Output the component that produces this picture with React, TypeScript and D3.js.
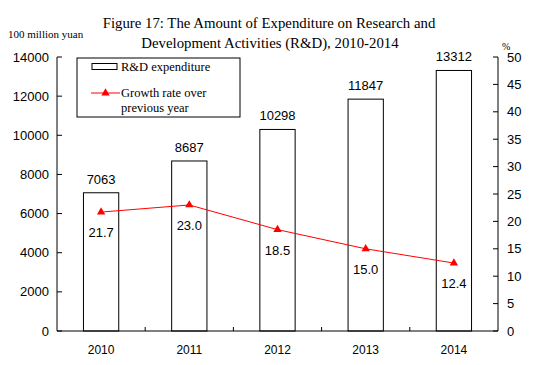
import * as d3 from 'd3';

const years = ['2010', '2011', '2012', '2013', '2014'];
const expenditure = [7063, 8687, 10298, 11847, 13312];
const growth = [21.7, 23.0, 18.5, 15.0, 12.4];
const leftTicks = [0, 2000, 4000, 6000, 8000, 10000, 12000, 14000];
const rightTicks = [0, 5, 10, 15, 20, 25, 30, 35, 40, 45, 50];

const W = 535;
const H = 365;
const margin = { top: 57, right: 37, bottom: 34, left: 57 };
const sans = 'Arial, "Liberation Sans", sans-serif';
const serif = '"Times New Roman", "Liberation Serif", serif';

export default function App() {
  const x = d3
    .scaleBand()
    .domain(years)
    .range([margin.left, W - margin.right]);
  const yL = d3.scaleLinear().domain([0, 14000]).range([H - margin.bottom, margin.top]);
  const yR = d3.scaleLinear().domain([0, 50]).range([H - margin.bottom, margin.top]);
  const barW = x.bandwidth() * 0.4;
  const cx = (d: string) => (x(d) ?? 0) + x.bandwidth() / 2;
  const x0 = margin.left;
  const x1 = W - margin.right;
  const y0 = H - margin.bottom;

  const line = d3
    .line<number>()
    .x((_, i) => cx(years[i]))
    .y((d) => yR(d));

  const tri = d3.symbol(d3.symbolTriangle, 30)() ?? '';

  return (
    <div style={{ margin: -8 }}>
      <svg width={W} height={H} style={{ display: 'block', background: '#fff' }}>
        {/* title */}
        <text x={269} y={28} textAnchor="middle" fontFamily={serif} fontSize={14.8}>
          Figure 17: The Amount of Expenditure on Research and
        </text>
        <text x={270} y={48} textAnchor="middle" fontFamily={serif} fontSize={14.8}>
          Development Activities (R&amp;D), 2010-2014
        </text>
        <text x={8} y={38} fontFamily={serif} fontSize={11}>
          100 million yuan
        </text>
        <text x={502} y={50} fontFamily={serif} fontSize={10}>
          %
        </text>

        {/* bars */}
        {expenditure.map((v, i) => (
          <g key={years[i]}>
            <rect
              x={cx(years[i]) - barW / 2}
              y={yL(v)}
              width={barW}
              height={y0 - yL(v)}
              fill="#fff"
              stroke="#000"
              strokeWidth={1}
            />
            <text
              x={cx(years[i])}
              y={yL(v) - 9}
              textAnchor="middle"
              fontFamily={sans}
              fontSize={13}
            >
              {v}
            </text>
          </g>
        ))}

        {/* growth line */}
        <path d={line(growth) ?? ''} fill="none" stroke="#ff0000" strokeWidth={1} />
        {growth.map((v, i) => (
          <g key={'g' + years[i]}>
            <path d={tri} transform={`translate(${cx(years[i])},${yR(v)})`} fill="#ff0000" />
            <text
              x={cx(years[i])}
              y={yR(v) + 25}
              textAnchor="middle"
              fontFamily={sans}
              fontSize={13}
            >
              {v.toFixed(1)}
            </text>
          </g>
        ))}

        {/* axes */}
        <line x1={x0} x2={x0} y1={margin.top} y2={y0} stroke="#000" />
        <line x1={x1} x2={x1} y1={margin.top} y2={y0} stroke="#000" />
        <line x1={x0} x2={x1} y1={y0} y2={y0} stroke="#000" />
        {leftTicks.map((t) => (
          <g key={'l' + t}>
            <line x1={x0} x2={x0 + 5} y1={yL(t)} y2={yL(t)} stroke="#000" />
            <text
              x={x0 - 8}
              y={yL(t)}
              dy="0.35em"
              textAnchor="end"
              fontFamily={sans}
              fontSize={13}
              fill="#000"
            >
              {t}
            </text>
          </g>
        ))}
        {rightTicks.map((t) => (
          <g key={'r' + t}>
            <line x1={x1 - 5} x2={x1} y1={yR(t)} y2={yR(t)} stroke="#000" />
            <text x={x1 + 9} y={yR(t)} dy="0.35em" fontFamily={sans} fontSize={13}>
              {t}
            </text>
          </g>
        ))}
        {years.slice(1).map((yr) => (
          <line key={'t' + yr} x1={x(yr)} x2={x(yr)} y1={y0} y2={y0 - 4} stroke="#000" />
        ))}
        {years.map((yr) => (
          <text key={'x' + yr} x={cx(yr)} y={y0 + 23} textAnchor="middle" fontFamily={sans} fontSize={12}>
            {yr}
          </text>
        ))}

        {/* legend */}
        <rect x={77} y={58} width={163} height={59} fill="#fff" stroke="#000" />
        <rect x={92} y={63.5} width={25} height={6} fill="#fff" stroke="#000" />
        <text x={121} y={71} fontFamily={serif} fontSize={12.5}>
          R&amp;D expenditure
        </text>
        <line x1={91} x2={120} y1={93} y2={93} stroke="#ff0000" />
        <path d={tri} transform="translate(105.5,93)" fill="#ff0000" />
        <text x={121} y={97} fontFamily={serif} fontSize={12.5}>
          Growth rate over
        </text>
        <text x={121} y={112} fontFamily={serif} fontSize={12.5}>
          previous year
        </text>
      </svg>
    </div>
  );
}
